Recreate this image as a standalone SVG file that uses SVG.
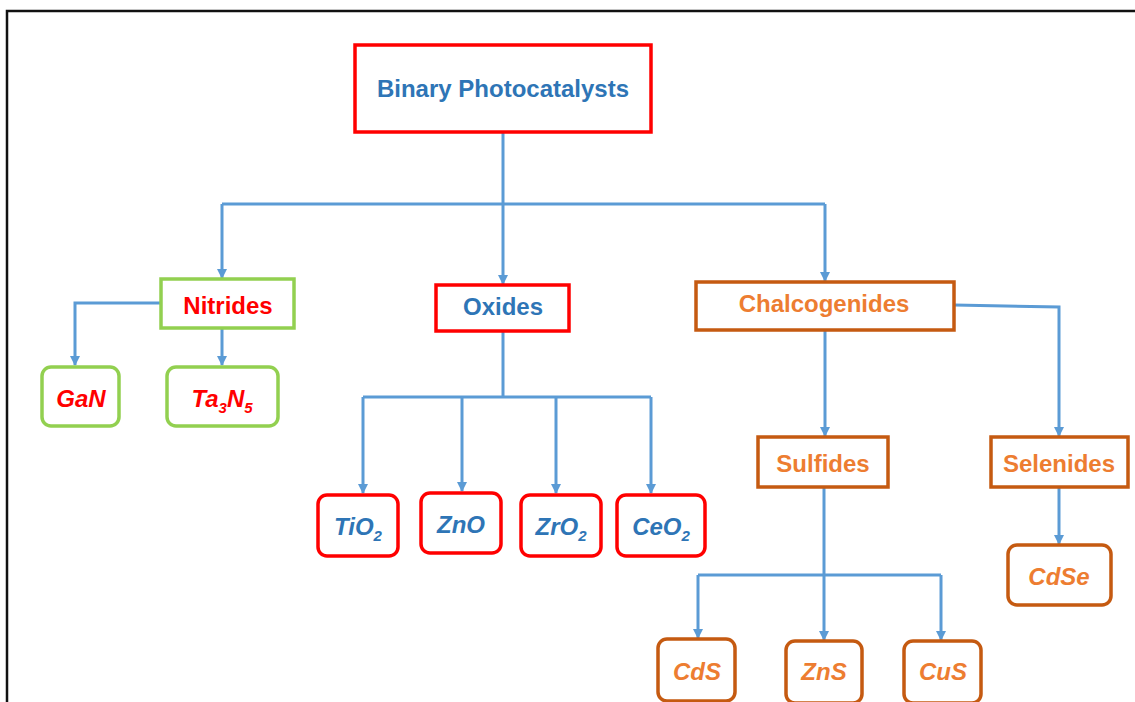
<svg xmlns="http://www.w3.org/2000/svg" width="1135" height="702" viewBox="0 0 1135 702">
<defs>
<marker id="arr" viewBox="0 0 10 10" refX="9" refY="5" markerWidth="10" markerHeight="10" markerUnits="userSpaceOnUse" orient="auto">
<path d="M0,0 L10,5 L0,10 z" fill="#5B9BD5"/>
</marker>
</defs>
<style>
text{font-family:"Liberation Sans",Arial,sans-serif;font-weight:bold;font-size:24px;text-anchor:middle}
.it{font-style:italic}
.sub{font-size:15px}
.red{fill:#FF0000}
.blue{fill:#2E75B6}
.org{fill:#ED7D31}
.bred{fill:#fff;stroke:#FF0000;stroke-width:3.5}
.bgrn{fill:#fff;stroke:#92D050;stroke-width:3.5}
.borg{fill:#fff;stroke:#C55A11;stroke-width:3.5}
.c{fill:none;stroke:#5B9BD5;stroke-width:3}
.ca{fill:none;stroke:#5B9BD5;stroke-width:3;marker-end:url(#arr)}
</style>
<rect x="0" y="0" width="1135" height="702" fill="#fff"/>
<rect x="7" y="11" width="1145" height="710" fill="none" stroke="#111" stroke-width="2.5"/>
<g id="connectors">
<path class="c" d="M503,132 V204"/>
<path class="c" d="M222,204 H825"/>
<path class="ca" d="M503,204 V284"/>
<path class="ca" d="M222,204 V278"/>
<path class="ca" d="M825,204 V281"/>
<path class="ca" d="M161,303 H75 V365"/>
<path class="ca" d="M222,328 V365"/>
<path class="c" d="M503,331 V397"/>
<path class="c" d="M363,397 H651"/>
<path class="ca" d="M363,397 V493"/>
<path class="ca" d="M462,397 V491"/>
<path class="ca" d="M556,397 V493"/>
<path class="ca" d="M651,397 V493"/>
<path class="ca" d="M825,330 V436"/>
<path class="ca" d="M954,305 L1059,307 V436"/>
<path class="c" d="M824,487 V575"/>
<path class="c" d="M698,575 H941"/>
<path class="ca" d="M698,575 V638"/>
<path class="ca" d="M824,575 V640"/>
<path class="ca" d="M941,575 V640"/>
<path class="ca" d="M1059,487 V544"/>
</g>
<g id="root"><rect class="bred" x="355" y="45" width="296" height="87"/><text class="blue" x="503" y="97">Binary Photocatalysts</text></g>
<g id="nitrides"><rect class="bgrn" x="161" y="279" width="133" height="49"/><text class="red" x="228" y="314">Nitrides</text></g>
<g id="oxides"><rect class="bred" x="436" y="285" width="133" height="46"/><text class="blue" x="503" y="315">Oxides</text></g>
<g id="chalcogenides"><rect class="borg" x="696" y="282" width="258" height="48"/><text class="org" x="824" y="312">Chalcogenides</text></g>
<g id="gan"><rect class="bgrn" x="42" y="367" width="77" height="59" rx="9"/><text class="red it" x="81" y="407">GaN</text></g>
<g id="ta3n5"><rect class="bgrn" x="167" y="367" width="111" height="59" rx="9"/><text class="red it" x="222" y="407">Ta<tspan class="sub" dy="6">3</tspan><tspan dy="-6">N</tspan><tspan class="sub" dy="6">5</tspan></text></g>
<g id="tio2"><rect class="bred" x="318" y="495" width="80" height="61" rx="9"/><text class="blue it" x="358" y="535">TiO<tspan class="sub" dy="6">2</tspan></text></g>
<g id="zno"><rect class="bred" x="421" y="493" width="80" height="60" rx="9"/><text class="blue it" x="461" y="533">ZnO</text></g>
<g id="zro2"><rect class="bred" x="521" y="495" width="80" height="61" rx="9"/><text class="blue it" x="561" y="535">ZrO<tspan class="sub" dy="6">2</tspan></text></g>
<g id="ceo2"><rect class="bred" x="617" y="495" width="88" height="61" rx="9"/><text class="blue it" x="661" y="535">CeO<tspan class="sub" dy="6">2</tspan></text></g>
<g id="sulfides"><rect class="borg" x="758" y="437" width="130" height="50"/><text class="org" x="823" y="472">Sulfides</text></g>
<g id="selenides"><rect class="borg" x="991" y="437" width="137" height="50"/><text class="org" x="1059" y="472">Selenides</text></g>
<g id="cdse"><rect class="borg" x="1008" y="545" width="103" height="60" rx="9"/><text class="org it" x="1059" y="585">CdSe</text></g>
<g id="cds"><rect class="borg" x="658" y="639" width="77" height="62" rx="9"/><text class="org it" x="697" y="680">CdS</text></g>
<g id="zns"><rect class="borg" x="786" y="641" width="76" height="62" rx="9"/><text class="org it" x="824" y="680">ZnS</text></g>
<g id="cus"><rect class="borg" x="904" y="641" width="77" height="62" rx="9"/><text class="org it" x="943" y="680">CuS</text></g>
</svg>
